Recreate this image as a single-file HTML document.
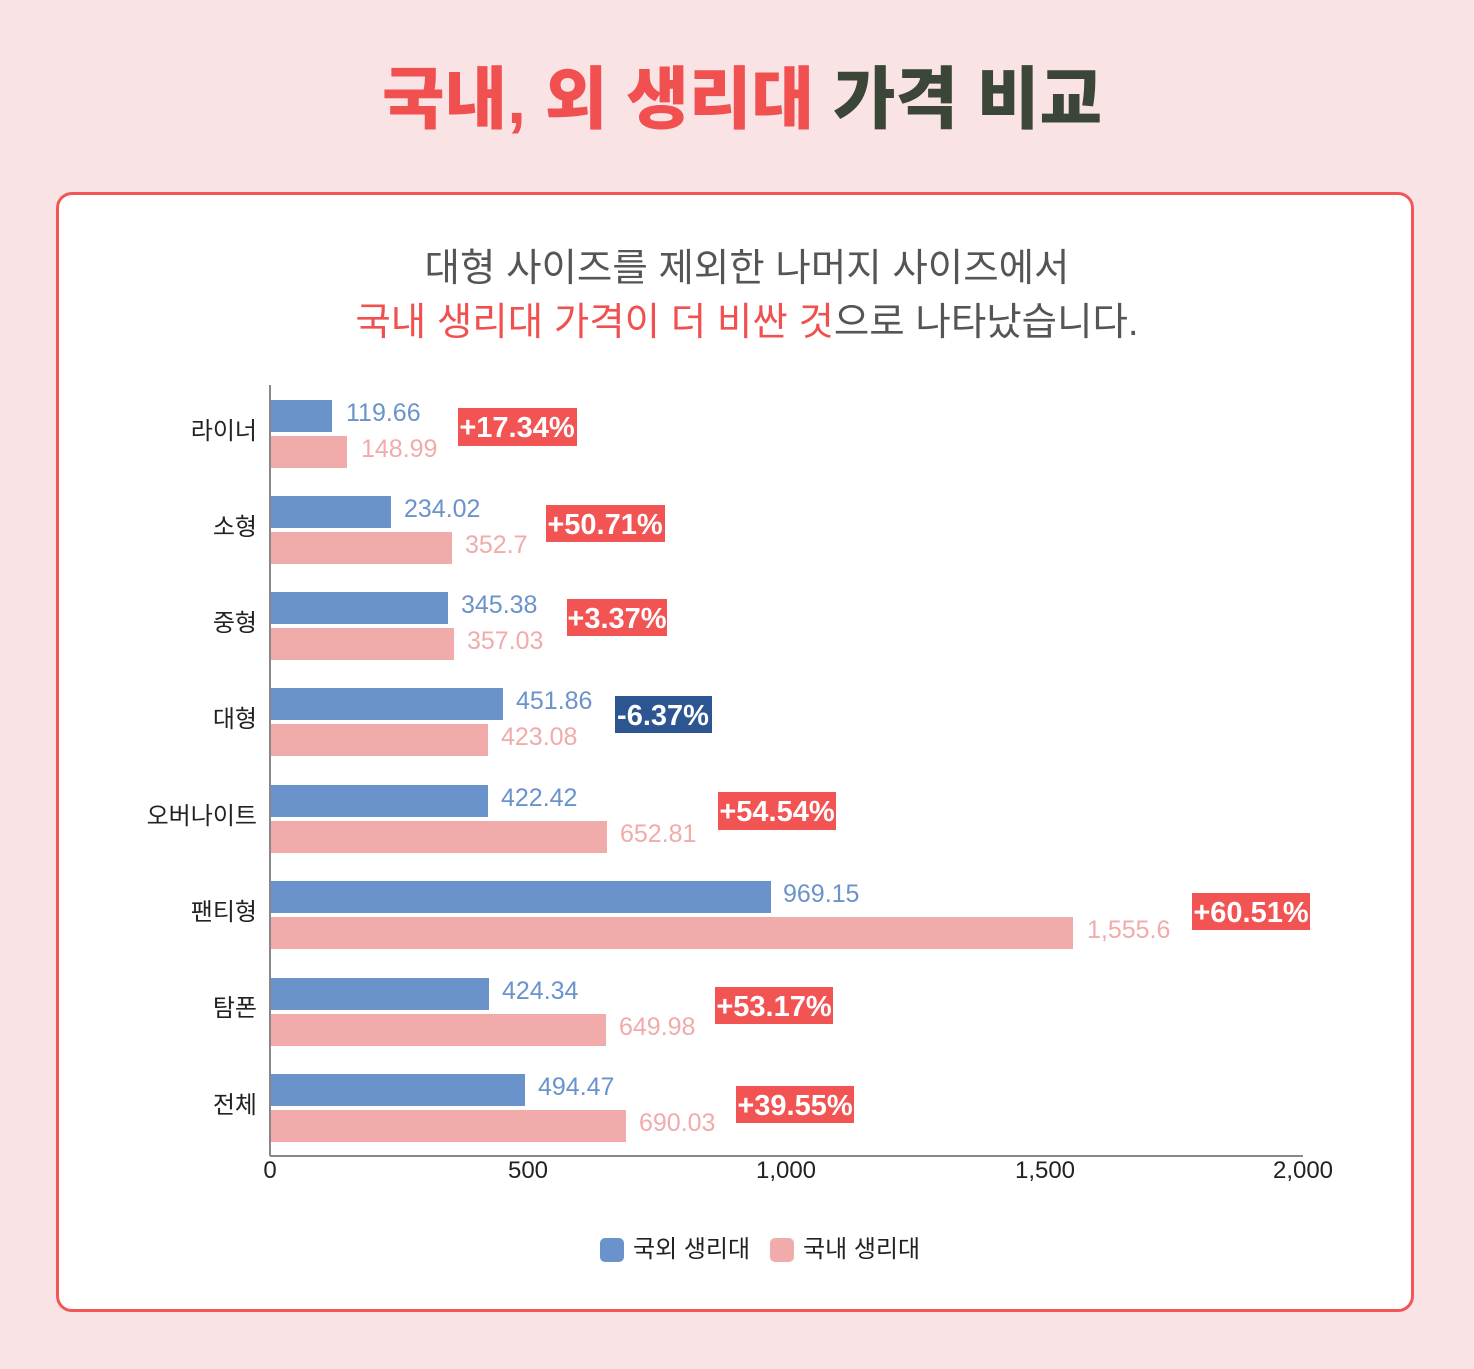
<!DOCTYPE html>
<html><head><meta charset="utf-8"><style>
html,body{margin:0;padding:0;}
body{width:1474px;height:1369px;background:#f9e3e4;position:relative;overflow:hidden;font-family:"Liberation Sans","Noto Sans CJK KR",sans-serif;}
.title{position:absolute;top:58px;left:0;width:1474px;text-align:center;font-size:68px;font-weight:900;letter-spacing:0px;color:#f0504f;line-height:84px;padding-left:10px;box-sizing:border-box;}
.title span{color:#3b4639;}
.card{position:absolute;left:56px;top:192px;width:1352px;height:1114px;border:3px solid #f25757;border-radius:16px;background:#fff;}
.sub{position:absolute;left:0;width:1474px;text-align:center;font-size:38.5px;color:#555;line-height:50px;padding-left:20px;box-sizing:border-box;}
.sub b{font-weight:normal;color:#f0504f;}
svg{position:absolute;left:0;top:0;}
</style></head><body>
<div class="title">국내, 외 생리대 <span>가격 비교</span></div>
<div class="card"></div>
<div class="sub" style="top:244px">대형 사이즈를 제외한 나머지 사이즈에서</div>
<div class="sub" style="top:298px"><b>국내 생리대 가격이 더 비싼 것</b>으로 나타났습니다.</div>
<svg width="1474" height="1369" font-family="Liberation Sans, Noto Sans CJK KR, sans-serif">
<line x1="270" y1="385" x2="270" y2="1156" stroke="#888" stroke-width="2"/>
<line x1="270" y1="1156" x2="1303" y2="1156" stroke="#888" stroke-width="2"/>
<g font-size="24" fill="#222" text-anchor="middle">
<text x="270" y="1178">0</text><text x="528" y="1178">500</text><text x="786" y="1178">1,000</text><text x="1045" y="1178">1,500</text><text x="1303" y="1178">2,000</text>
</g>
<g font-size="24" fill="#222" text-anchor="end">
<text x="257" y="439">라이너</text><text x="257" y="535">소형</text><text x="257" y="631">중형</text><text x="257" y="727">대형</text><text x="257" y="824">오버나이트</text><text x="257" y="920">팬티형</text><text x="257" y="1016">탐폰</text><text x="257" y="1113">전체</text>
</g>
<g fill="#6a93cc">
<rect x="271" y="400" width="61" height="32"/><rect x="271" y="496" width="120" height="32"/><rect x="271" y="592" width="177" height="32"/><rect x="271" y="688" width="232" height="32"/><rect x="271" y="785" width="217" height="32"/><rect x="271" y="881" width="500" height="32"/><rect x="271" y="978" width="218" height="32"/><rect x="271" y="1074" width="254" height="32"/>
</g>
<g fill="#f1abab">
<rect x="271" y="436" width="76" height="32"/><rect x="271" y="532" width="181" height="32"/><rect x="271" y="628" width="183" height="32"/><rect x="271" y="724" width="217" height="32"/><rect x="271" y="821" width="336" height="32"/><rect x="271" y="917" width="802" height="32"/><rect x="271" y="1014" width="335" height="32"/><rect x="271" y="1110" width="355" height="32"/>
</g>
<g font-size="25" fill="#6a93cc">
<text x="346" y="421">119.66</text><text x="404" y="517">234.02</text><text x="461" y="613">345.38</text><text x="516" y="709">451.86</text><text x="501" y="806">422.42</text><text x="783" y="902">969.15</text><text x="502" y="999">424.34</text><text x="538" y="1095">494.47</text>
</g>
<g font-size="25" fill="#f1abab">
<text x="361" y="457">148.99</text><text x="465" y="553">352.7</text><text x="467" y="649">357.03</text><text x="501" y="745">423.08</text><text x="620" y="842">652.81</text><text x="1087" y="938">1,555.6</text><text x="619" y="1035">649.98</text><text x="639" y="1131">690.03</text>
</g>
<g fill="#f25454">
<rect x="458" y="408" width="119" height="38"/><rect x="546" y="505" width="119" height="37"/><rect x="567" y="599" width="100" height="37"/><rect x="718" y="792" width="118" height="38"/><rect x="1192" y="893" width="118" height="37"/><rect x="715" y="987" width="118" height="37"/><rect x="736" y="1086" width="118" height="37"/>
</g>
<rect x="615" y="696" width="97" height="37" fill="#2d5592"/>
<g font-size="29" font-weight="bold" fill="#fff" text-anchor="middle">
<text x="517" y="437">+17.34%</text><text x="605" y="534">+50.71%</text><text x="617" y="628">+3.37%</text><text x="663" y="725">-6.37%</text><text x="777" y="821">+54.54%</text><text x="1251" y="922">+60.51%</text><text x="774" y="1016">+53.17%</text><text x="795" y="1115">+39.55%</text>
</g>
<rect x="600" y="1238" width="24" height="24" rx="5" fill="#6a93cc"/>
<rect x="770" y="1238" width="24" height="24" rx="5" fill="#f1abab"/>
<g font-size="24" fill="#222"><text x="633" y="1257">국외 생리대</text><text x="803" y="1257">국내 생리대</text></g>
</svg>
</body></html>
